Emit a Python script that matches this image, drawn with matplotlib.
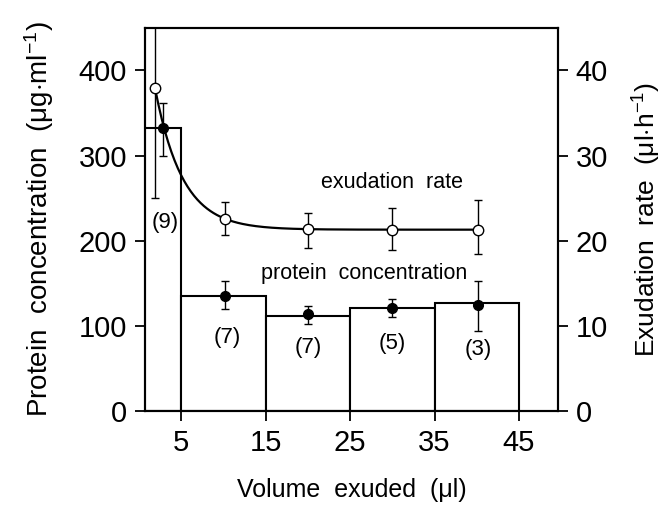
import numpy as np
from matplotlib import pyplot as plt

plt.rcParams['font.family'] = ['Liberation Sans', 'DejaVu Sans']
plt.rcParams['mathtext.fontset'] = 'custom'
plt.rcParams['mathtext.rm'] = 'Liberation Sans'
plt.rcParams['mathtext.it'] = 'Liberation Sans:italic'

# bars: volume bins and protein concentration
bin_left = [0, 5, 15, 25, 35]
bin_width = [5, 10, 10, 10, 10]
bar_height = [332, 135, 112, 121, 127]
counts = ['(9)', '(7)', '(7)', '(5)', '(3)']
count_x = [3.1, 10.4, 20, 30, 40.2]
count_y = [222, 86, 75, 79, 72]

# protein concentration points (left axis)
prot_x = [2.8, 10.2, 20, 30, 40.2]
prot_y = [332, 135, 114, 121, 125]
prot_lo = [299, 120, 102, 110, 94]
prot_hi = [362, 153, 123, 131, 153]

# exudation rate points (right axis)
rate_x = [1.9, 10.2, 20, 30, 40.2]
rate_y = [37.9, 22.6, 21.4, 21.3, 21.3]
rate_lo = [25.0, 20.7, 19.2, 18.9, 18.5]
rate_hi = [48.0, 24.6, 23.3, 23.8, 24.8]

fig = plt.figure(figsize=(6.68, 5.08), dpi=100)
ax = fig.add_axes([0.217, 0.191, 0.618, 0.754])
ax2 = ax.twinx()

ax.bar(bin_left, bar_height, width=bin_width, align='edge',
       facecolor='white', edgecolor='black', linewidth=1.5, zorder=1)
for cx, cy, t in zip(count_x, count_y, counts):
    ax.text(cx, cy, t, ha='center', va='center', fontsize=16)

perr = [np.array(prot_y) - np.array(prot_lo), np.array(prot_hi) - np.array(prot_y)]
ax.errorbar(prot_x, prot_y, yerr=perr, fmt='o', color='black', ms=7,
            elinewidth=1, capsize=3, capthick=1, zorder=3)

# smooth curve: fitted exponential decay through the open circles
a = min(rate_y)
k = np.log((rate_y[0] - a + 0.3) / (rate_y[1] - a)) / (rate_x[1] - rate_x[0])
b = (rate_y[0] - a) * np.exp(k * rate_x[0])
xs = np.linspace(rate_x[0], rate_x[-1], 200)
ax2.plot(xs, a + b * np.exp(-k * xs), color='black', lw=1.6, zorder=2)
rerr = [np.array(rate_y) - np.array(rate_lo), np.array(rate_hi) - np.array(rate_y)]
ax2.errorbar(rate_x, rate_y, yerr=rerr, fmt='o', mfc='white', mec='black',
             color='black', ms=7.5, elinewidth=1, capsize=3, capthick=1, zorder=3)

ax.text(30, 268, 'exudation  rate', ha='center', va='center', fontsize=15.5)
ax.text(26.7, 162, 'protein  concentration', ha='center', va='center', fontsize=15.5)

ax.set_xlim(0.7, 49.6)
ax.set_ylim(0, 450)
ax2.set_ylim(0, 45)
ax.set_xticks([5, 15, 25, 35, 45])
ax.set_yticks([0, 100, 200, 300, 400])
ax2.set_yticks([0, 10, 20, 30, 40])

for a_ in (ax, ax2):
    a_.tick_params(labelsize=21, length=7, width=1.3, direction='out', pad=6)
    for s in a_.spines.values():
        s.set_linewidth(1.5)

ax.set_xlabel('Volume  exuded  (μl)', fontsize=18, labelpad=15)
ax.set_ylabel(r'Protein  concentration  (μg$\cdot$ml$^{-1}$)', fontsize=20, labelpad=16)
ax2.set_ylabel(r'Exudation  rate  (μl$\cdot$h$^{-1}$)', fontsize=19, labelpad=16)

ax.set_zorder(ax2.get_zorder() - 1)
ax2.patch.set_visible(False)

fig.savefig('out.png', dpi=100)
